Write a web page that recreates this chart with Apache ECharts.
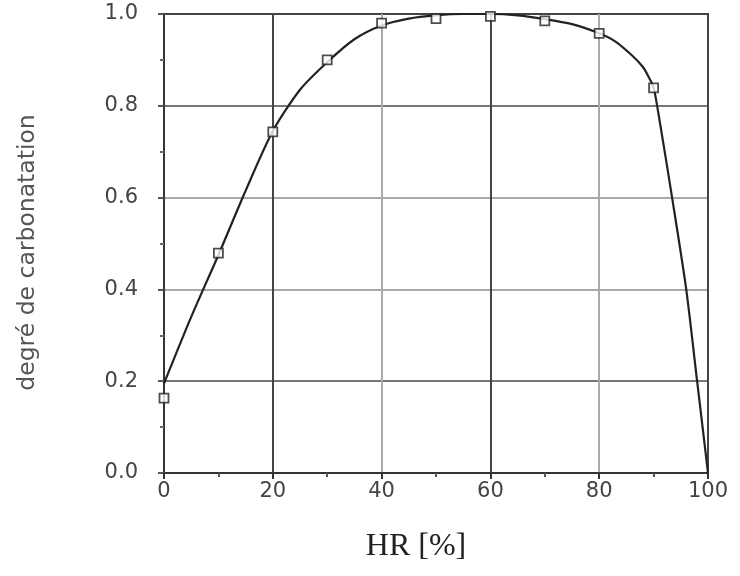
<!DOCTYPE html>
<html>
<head>
<meta charset="utf-8">
<script src="https://cdn.jsdelivr.net/npm/echarts@6/dist/echarts.min.js"></script>
<style>
html,body{margin:0;padding:0;background:#fff;}
#chart{width:740px;height:576px;}
</style>
</head>
<body>
<div id="chart"></div>
<script>
// Measured points (open squares)
const markerHR = [0, 10, 20, 30, 40, 50, 60, 70, 80, 90];
const markerDegree = [0.163, 0.479, 0.743, 0.90, 0.98, 0.99, 0.995, 0.985, 0.958, 0.839];

// Fitted curve
const curveHR = [0, 5, 10, 15, 20, 25, 30, 35, 40, 45, 50, 55, 60, 65, 70, 75, 80, 83, 86, 88, 89, 90, 91, 93.4, 96, 98, 100];
const curveDegree = [0.195, 0.34, 0.475, 0.615, 0.745, 0.835, 0.895, 0.945, 0.975, 0.99, 0.997, 1.0, 1.0, 0.997, 0.989, 0.978, 0.958, 0.94, 0.91, 0.885, 0.865, 0.84, 0.775, 0.6, 0.4, 0.2, 0.0];

const xTicks = [0, 20, 40, 60, 80, 100];
const yTicks = [0.0, 0.2, 0.4, 0.6, 0.8, 1.0];

const xTitle = 'HR [%]';
const yTitle = 'degré de carbonatation';

const dark = '#444';
const mid = '#777';
const light = '#aaa';

const chart = echarts.init(document.getElementById('chart'), null, {renderer: 'canvas'});
chart.setOption({
  backgroundColor: '#ffffff',
  animation: false,
  grid: {left: 164, right: 32, top: 14, bottom: 103, show: true, borderColor: '#333', borderWidth: 2, backgroundColor: 'transparent'},
  xAxis: {
    type: 'value', min: xTicks[0], max: xTicks[xTicks.length - 1], interval: 20,
    name: xTitle, nameLocation: 'middle', nameGap: 58,
    nameTextStyle: {fontFamily: 'Liberation Serif', fontSize: 32, color: '#222', padding: [0, 40, 0, 0]},
    axisLine: {lineStyle: {color: '#333', width: 2}},
    axisTick: {show: true, length: 6, lineStyle: {color: '#333', width: 2}},
    minorTick: {show: true, splitNumber: 2, length: 4, lineStyle: {color: '#555', width: 2}},
    axisLabel: {fontFamily: 'DejaVu Sans', fontSize: 21, color: '#444', margin: 8,
      formatter: v => String(v)},
    splitLine: {show: true, lineStyle: {color: [dark, dark, light, dark, light, dark], width: 2}}
  },
  yAxis: {
    type: 'value', min: yTicks[0], max: yTicks[yTicks.length - 1], interval: 0.2,
    name: yTitle, nameLocation: 'middle', nameGap: 124, nameRotate: 90,
    nameTextStyle: {fontFamily: 'DejaVu Sans', fontSize: 23.5, color: '#555', padding: [0, 18, 0, 0]},
    axisLine: {lineStyle: {color: '#333', width: 2}},
    axisTick: {show: true, length: 6, lineStyle: {color: '#555', width: 2}},
    minorTick: {show: true, splitNumber: 2, length: 4, lineStyle: {color: '#666', width: 2}},
    axisLabel: {fontFamily: 'DejaVu Sans', fontSize: 21, color: '#444', margin: 26,
      formatter: v => v.toFixed(1)},
    splitLine: {show: true, lineStyle: {color: [dark, mid, light, light, mid, dark], width: 2}}
  },
  series: [
    {
      type: 'line', name: 'courbe',
      data: curveHR.map((x, i) => [x, curveDegree[i]]),
      smooth: 0.25, showSymbol: false,
      lineStyle: {color: '#222', width: 2.2},
      z: 3
    },
    {
      type: 'scatter', name: 'mesures',
      data: markerHR.map((x, i) => [x, markerDegree[i]]),
      symbol: 'rect', symbolSize: 9,
      itemStyle: {color: '#fff', borderColor: '#222', borderWidth: 1.8},
      z: 4
    }
  ]
});
</script>
</body>
</html>
